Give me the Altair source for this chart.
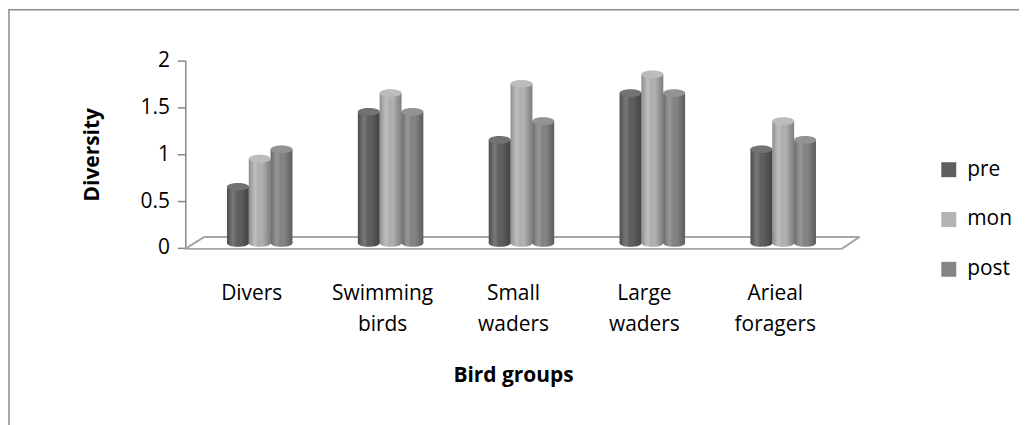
import altair as alt
import pandas as pd

groups = ["Divers", "Swimming birds", "Small waders", "Large waders", "Arieal foragers"]
series = ["pre", "mon", "post"]
pre = [0.6, 1.4, 1.1, 1.6, 1.0]
mon = [0.9, 1.6, 1.7, 1.8, 1.3]
post = [1.0, 1.4, 1.3, 1.6, 1.1]
colors = ["#5f5f5f", "#b3b3b3", "#858585"]
y_ticks = [0, 0.5, 1, 1.5, 2]

rows = []
for s, vals in zip(series, [pre, mon, post]):
    for g, v in zip(groups, vals):
        rows.append({"group": g, "series": s, "value": v, "zero": 0})
df = pd.DataFrame(rows)

FONT = "Open Sans"
W, H = 657, 188
AXIS_GRAY = "#878787"
ELLIPSE = "M -1 0 A 1 0.35 0 1 0 1 0 A 1 0.35 0 1 0 -1 0 Z"
SZ = 484

x_enc = alt.X(
    "group:N", sort=groups,
    scale=alt.Scale(paddingInner=0.5, paddingOuter=0.25),
    axis=alt.Axis(
        title="Bird groups", labelExpr="split(datum.label, ' ')", labelAngle=0,
        ticks=False, domain=False, labelOverlap=False,
        labelFont=FONT, labelFontSize=21, labelColor="black",
        labelPadding=35, labelOffset=-8, labelLineHeight=31,
        titleFont=FONT, titleFontSize=21, titleFontWeight="bold", titleColor="black",
        titlePadding=30, titleX=320,
    ),
)
xo_enc = alt.XOffset("series:N", sort=series, scale=alt.Scale(paddingInner=0, paddingOuter=0))
y_enc = alt.Y(
    "value:Q", scale=alt.Scale(domain=[0, 2], nice=False),
    axis=alt.Axis(
        values=y_ticks, format="~g", title="Diversity", grid=False, offset=9,
        domainColor=AXIS_GRAY, domainWidth=1.5, tickColor=AXIS_GRAY, tickWidth=1.5, tickSize=8,
        labelFont=FONT, labelFontSize=21, labelColor="black", labelPadding=8,
        titleFont=FONT, titleFontSize=21, titleFontWeight="bold", titleColor="black",
        titlePadding=38,
    ),
)
color_enc = alt.Color(
    "series:N", sort=series,
    scale=alt.Scale(domain=series, range=colors),
    legend=alt.Legend(
        title=None, orient="none", legendX=747, legendY=99,
        symbolType="square", symbolSize=225, symbolStrokeWidth=0, symbolOpacity=1,
        labelFont=FONT, labelFontSize=21, labelColor="black", labelOffset=8,
        rowPadding=28, padding=0,
    ),
)

one = pd.DataFrame({"k": [0]})

frame = alt.Chart(one).mark_rect(filled=False, stroke="#8c8c8c", strokeWidth=1.5).encode(
    x=alt.value(-186), x2=alt.value(900), y=alt.value(-51), y2=alt.value(500)
)

floor_style = dict(color="#a6a6a6", strokeWidth=2)
floor = alt.layer(
    alt.Chart(one).mark_rule(**floor_style).encode(x=alt.value(-9), x2=alt.value(650), y=alt.value(189), y2=alt.value(189)),
    alt.Chart(one).mark_rule(**floor_style).encode(x=alt.value(10), x2=alt.value(668), y=alt.value(177), y2=alt.value(177)),
    alt.Chart(one).mark_rule(**floor_style).encode(x=alt.value(-9), x2=alt.value(10), y=alt.value(189), y2=alt.value(177)),
    alt.Chart(one).mark_rule(**floor_style).encode(x=alt.value(650), x2=alt.value(668), y=alt.value(189), y2=alt.value(177)),
)

shade = alt.Gradient(
    gradient="linear", x1=0, x2=1, y1=0, y2=0,
    stops=[
        alt.GradientStop(offset=0, color="rgba(0,0,0,0.22)"),
        alt.GradientStop(offset=0.3, color="rgba(255,255,255,0.16)"),
        alt.GradientStop(offset=0.6, color="rgba(0,0,0,0.0)"),
        alt.GradientStop(offset=1, color="rgba(0,0,0,0.30)"),
    ],
)

base = alt.Chart(df)

bottom_ell = base.mark_point(filled=True, shape=ELLIPSE, size=SZ, opacity=1, yOffset=-5).encode(
    x=x_enc, xOffset=xo_enc, y=alt.Y("zero:Q"), color=color_enc
)
bottom_shade = base.mark_point(filled=True, shape=ELLIPSE, size=SZ, opacity=1, fill=shade, yOffset=-5).encode(
    x=x_enc, xOffset=xo_enc, y=alt.Y("zero:Q")
)
bars = base.mark_bar(yOffset=-5, y2Offset=-5).encode(
    x=x_enc, xOffset=xo_enc, y=y_enc, color=color_enc
)
bars_shade = base.mark_bar(yOffset=-5, y2Offset=-5, fill=shade).encode(
    x=x_enc, xOffset=xo_enc, y=y_enc
)
top_ell = base.mark_point(filled=True, shape=ELLIPSE, size=SZ, opacity=1, yOffset=-5).encode(
    x=x_enc, xOffset=xo_enc, y=y_enc, color=color_enc
)
top_light = base.mark_point(filled=True, shape=ELLIPSE, size=SZ, fill="white", opacity=0.12, yOffset=-5).encode(
    x=x_enc, xOffset=xo_enc, y=y_enc
)

chart = alt.layer(
    frame, floor, bottom_ell, bottom_shade, bars, bars_shade, top_ell, top_light
).properties(
    width=W, height=H,
    padding={"left": 187, "top": 52, "right": 171, "bottom": 177},
    autosize=alt.AutoSizeParams(type="none"),
    background="white",
).configure_view(stroke=None)

chart.save("out.html", embed_options={"renderer": "svg", "actions": False})
